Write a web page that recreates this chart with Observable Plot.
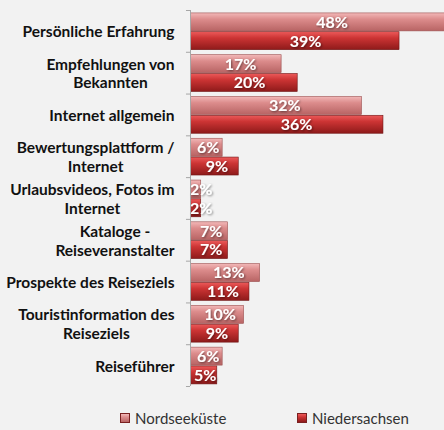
<!DOCTYPE html>
<html>
<head>
<meta charset="utf-8">
<script src="https://cdn.jsdelivr.net/npm/d3@7"></script>
<script src="https://cdn.jsdelivr.net/npm/@observablehq/plot@0.6"></script>
<style>
  html, body { margin: 0; padding: 0; background: #f2f2f2; width: 444px; height: 430px; overflow: hidden; }
  #chart { position: relative; width: 444px; height: 430px; }
  .legend { position: absolute; top: 409px; left: 0; width: 444px; height: 20px; font-family: Lato, "Open Sans", sans-serif; font-size: 15px; color: #333; }
  .legend span.item { position: absolute; top: 0; display: flex; align-items: center; }
  .legend span.sw { display: inline-block; width: 8px; height: 8px; margin-right: 5px; border: 0.5px solid #7a2020; }
</style>
</head>
<body>
<div id="chart"></div>
<script>
const categories = [
  "Persönliche Erfahrung",
  "Empfehlungen von\nBekannten",
  "Internet allgemein",
  "Bewertungsplattform /\nInternet",
  "Urlaubsvideos, Fotos im\nInternet",
  "Kataloge -\nReiseveranstalter",
  "Prospekte des Reiseziels",
  "Touristinformation des\nReiseziels",
  "Reiseführer"
];
const series = ["Nordseeküste", "Niedersachsen"];
const nordseekueste = [48, 17, 32, 6, 2, 7, 13, 10, 6];
const niedersachsen = [39, 20, 36, 9, 2, 7, 11, 9, 5];

const rows = [];
categories.forEach((c, i) => {
  rows.push({cat: c, i, series: series[0], s: 0, value: nordseekueste[i]});
  rows.push({cat: c, i, series: series[1], s: 1, value: niedersachsen[i]});
});

const defs = () => {
  const svg = d3.create("svg:defs");
  const g1 = svg.append("linearGradient").attr("id", "gNord").attr("x1", 0).attr("x2", 0).attr("y1", 0).attr("y2", 1);
  g1.append("stop").attr("offset", "0%").attr("stop-color", "#f2b8b8");
  g1.append("stop").attr("offset", "35%").attr("stop-color", "#dc8c8c");
  g1.append("stop").attr("offset", "100%").attr("stop-color", "#b86464");
  const g2 = svg.append("linearGradient").attr("id", "gNieder").attr("x1", 0).attr("x2", 0).attr("y1", 0).attr("y2", 1);
  g2.append("stop").attr("offset", "0%").attr("stop-color", "#ec5a5a");
  g2.append("stop").attr("offset", "35%").attr("stop-color", "#cc3434");
  g2.append("stop").attr("offset", "100%").attr("stop-color", "#8e1a1a");
  const f = svg.append("filter").attr("id", "ts").attr("x", "-20%").attr("y", "-20%").attr("width", "140%").attr("height", "140%");
  f.append("feDropShadow").attr("dx", 1).attr("dy", 1).attr("stdDeviation", 0.8).attr("flood-color", "#000").attr("flood-opacity", 0.5);
  return svg.node();
};

const chart = Plot.plot({
  width: 444,
  height: 397,
  marginLeft: 190,
  marginRight: 0,
  marginTop: 10,
  marginBottom: 11,
  style: {background: "#f2f2f2", overflow: "hidden"},
  x: {domain: [0, 254 / 5.36], axis: null},
  y: {domain: [0, 9], range: [10, 386], axis: null},
  marks: [
    defs,
    Plot.rectX(rows, {
      x1: 0,
      x2: "value",
      y1: d => d.i + (d.s === 0 ? 0.07 : 0.52),
      y2: d => d.i + (d.s === 0 ? 0.5 : 0.95),
      fill: d => d.s === 0 ? "url(#gNord)" : "url(#gNieder)",
      stroke: d => d.s === 0 ? "#9c5050" : "#701414",
      strokeWidth: 0.6,
      clip: "frame"
    }),
    Plot.text(rows, {
      x: d => Math.max(d.value * 0.55, 2.0),
      y: d => d.i + (d.s === 0 ? 0.29 : 0.74),
      text: d => d.value + "%",
      fill: "white",
      fontFamily: "Lato, 'Open Sans', sans-serif",
      fontWeight: "bold",
      fontSize: 16,
      className: "vallabel"
    }),
    Plot.ruleX([0], {y1: 0, y2: 9, stroke: "#a6a6a6", strokeWidth: 1}),
    Plot.ruleY(d3.range(10), {x1: -0.75, x2: 0, stroke: "#a6a6a6", strokeWidth: 1}),
    Plot.text(categories, {
      x: 0,
      y: (d, i) => i + 0.5,
      text: d => d,
      textAnchor: "end",
      dx: -16,
      lineHeight: 1.2,
      fontFamily: "Lato, 'Open Sans', sans-serif",
      fontWeight: "bold",
      fontSize: 15.5,
      fill: "#111",
      className: "catlabel"
    })
  ]
});

const container = document.getElementById("chart");
container.appendChild(chart);

d3.select(chart).selectAll("g.vallabel").attr("filter", "url(#ts)");

// center multi-line category labels within their right-aligned box
d3.select(chart).selectAll(".catlabel text").each(function() {
  const tspans = this.querySelectorAll("tspan");
  if (tspans.length < 2) return;
  let maxW = 0;
  tspans.forEach(t => { maxW = Math.max(maxW, t.getComputedTextLength()); });
  this.setAttribute("text-anchor", "middle");
  tspans.forEach(t => t.setAttribute("x", -maxW / 2));
});

const legend = document.createElement("div");
legend.className = "legend";
legend.innerHTML =
  '<span class="item" style="left:120px"><span class="sw" style="background:linear-gradient(#f2b8b8,#dc8c8c 40%,#b86464)"></span>' + series[0] + '</span>' +
  '<span class="item" style="left:297px"><span class="sw" style="background:linear-gradient(#ec5a5a,#cc3434 40%,#8e1a1a)"></span>' + series[1] + '</span>';
container.appendChild(legend);
</script>
</body>
</html>
